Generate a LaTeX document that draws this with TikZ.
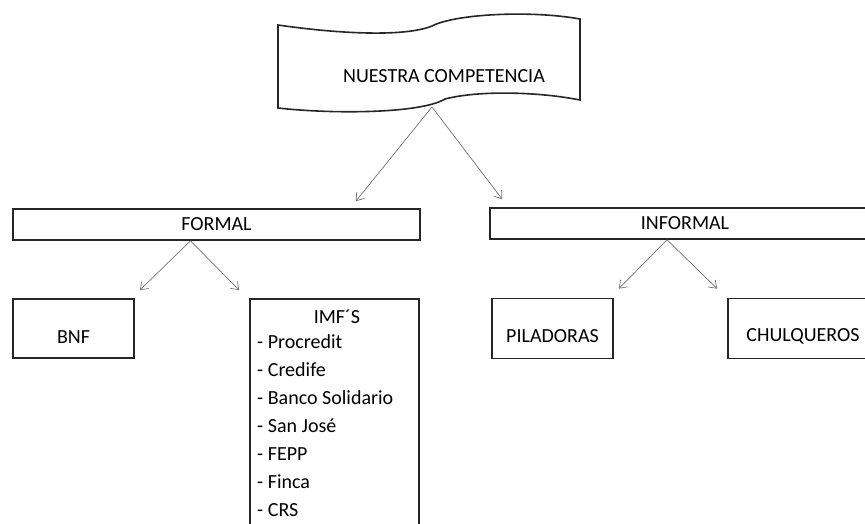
\documentclass[tikz,border=0pt]{standalone}
\usepackage{fontspec}
\setmainfont{Carlito}
\usetikzlibrary{arrows.meta}

\tikzset{
  box/.style={draw=black!85, line width=1.6pt, fill=white, inner sep=0pt,
    font=\fontsize{20}{29}\selectfont, align=center},
  link/.style={draw=black!55, line width=0.7pt,
    -{Straight Barb[length=7pt,width=10pt]}},
}

\begin{document}
\begin{tikzpicture}[x=1pt,y=-1pt]
  \useasboundingbox (0,0) rectangle (865,524);
  \clip (0,0) rectangle (865,524);
  % Banner
  \draw[line width=1.6pt, draw=black!85]
    (278,25) .. controls (340,34) and (405,37) .. (432,26)
    .. controls (455,14) and (530,10) .. (580,19)
    -- (580,100) .. controls (540,92) and (480,90) .. (445,99)
    .. controls (420,114) and (330,114) .. (278,108) -- cycle;
  \node[font=\fontsize{20}{24}\selectfont] (comp) at (444,76) {NUESTRA COMPETENCIA};
  \coordinate (tip) at (432,107);
  % Second level
  \node[box, minimum width=407pt, minimum height=31pt] (formal) at (216.5,224.5) {FORMAL};
  \node[box, minimum width=390pt, minimum height=31pt] (informal) at (685,223.5) {INFORMAL};
  % Leaves
  \node[box, minimum width=121pt, minimum height=59pt] (bnf) at (73.5,328.5) {\mbox{}\\BNF};
  \node[box, minimum width=121pt, minimum height=60pt] (pil) at (552.5,328.5) {\mbox{}\\PILADORAS};
  \node[box, minimum width=150pt, minimum height=60pt] (chul) at (803,328.5) {\mbox{}\\CHULQUEROS};
  \node[box, minimum width=169pt, minimum height=240pt] (imfs) at (334.5,419) {};
  \node[font=\fontsize{20}{24}\selectfont] (imfs-t) at (337,317) {IMF´S};
  \node[anchor=north west, align=left, inner sep=0pt,
    font=\fontsize{20}{28}\selectfont] (imfs-l) at (257,334)
    {- Procredit\\- Credife\\- Banco Solidario\\- San José\\- FEPP\\- Finca\\- CRS};
  % Arrows
  \draw[link] (tip) -- ([xshift=-65pt,yshift=7pt]formal.north east);
  \draw[link] (tip) -- ([xshift=13pt,yshift=8pt]informal.north west);
  \draw[link] ([xshift=-26pt]formal.south) -- ([xshift=5pt,yshift=8pt]bnf.north east);
  \draw[link] ([xshift=-26pt]formal.south) -- ([xshift=-10pt,yshift=8pt]imfs.north west);
  \draw[link] ([xshift=-18pt]informal.south) -- ([xshift=5pt,yshift=9pt]pil.north east);
  \draw[link] ([xshift=-18pt]informal.south) -- ([xshift=-10pt,yshift=9pt]chul.north west);
\end{tikzpicture}
\end{document}
